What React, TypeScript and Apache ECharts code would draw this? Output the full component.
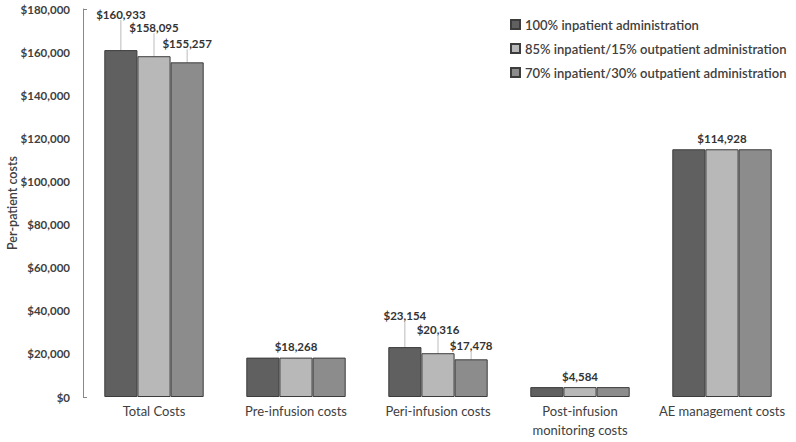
import React, { useEffect, useRef } from "react";
import * as echarts from "echarts";

const categories = ["Total Costs", "Pre-infusion costs", "Peri-infusion costs", "Post-infusion\nmonitoring costs", "AE management costs"];
const seriesNames = ["100% inpatient administration", "85% inpatient/15% outpatient administration", "70% inpatient/30% outpatient administration"];
const inpatient100 = [160933, 18268, 23154, 4584, 114928];
const mix85 = [158095, 18268, 20316, 4584, 114928];
const mix70 = [155257, 18268, 17478, 4584, 114928];
const colors = ["#606060", "#b8b8b8", "#8c8c8c"];
// which labels are shown: staggered for Total/Peri (all), single centered label for others
const showLabel = [
  [true, false, true, false, false],
  [true, true, true, true, true],
  [true, false, true, false, false],
];
const labelRaise = [
  [-25, 0, -21, 0, 0],
  [-18, 0, -13, 0, 0],
  [-8, 0, -3, 0, 0],
];

const FONT = "Lato, 'Open Sans', sans-serif";

export default function App() {
  const ref = useRef<HTMLDivElement>(null);
  useEffect(() => {
    const chart = echarts.init(ref.current!, null, { renderer: "svg" });
    const all = [inpatient100, mix85, mix70];
    const fmt = (v: number) => "$" + v.toLocaleString("en-US");
    chart.setOption({
      animation: false,
      textStyle: { fontFamily: FONT },
      grid: { left: 83, right: 3, top: 9, bottom: 45, containLabel: false, outerBoundsMode: "none" },
      legend: {
        orient: "vertical",
        left: 505,
        top: 13,
        itemWidth: 9,
        itemHeight: 9,
        itemGap: 11,
        icon: "rect",
        textStyle: { fontSize: 13, color: "#404040", fontWeight: 600, fontFamily: FONT },
        data: seriesNames,
      },
      xAxis: {
        type: "category",
        data: categories,
        axisLine: { show: false },
        axisTick: { show: false },
        axisLabel: { color: "#404040", fontSize: 13, margin: 4, lineHeight: 19, interval: 0, fontFamily: FONT },
      },
      yAxis: [
        {
          type: "value",
          min: 0,
          max: 180000,
          interval: 20000,
          name: "Per-patient costs",
          nameLocation: "middle",
          nameGap: 64,
          nameMoveOverlap: false,
          nameTextStyle: { color: "#404040", fontSize: 12.5, fontWeight: 600, fontFamily: FONT },
          splitLine: { show: false },
          axisLine: { show: true, lineStyle: { color: "#888888" } },
          axisTick: { show: false },
          axisLabel: { color: "#404040", fontSize: 11.5, fontWeight: 700, margin: 13, formatter: (v: number) => fmt(v) },
        },
        {
          type: "value",
          min: 0,
          max: 180000,
          interval: 180000,
          position: "left",
          splitLine: { show: false },
          axisLine: { show: false },
          axisLabel: { show: false },
          axisTick: { show: true, inside: true, length: 4, lineStyle: { color: "#888888" } },
        },
      ],
      series: seriesNames.map((name, si) => ({
        name,
        type: "bar",
        yAxisIndex: 0,
        barGap: "0%",
        barCategoryGap: "30%",
        itemStyle: { color: colors[si], borderColor: "#3c3c3c", borderWidth: 1 },
        labelLine: { show: true, lineStyle: { color: "#bbbbbb", width: 1 } },
        labelLayout: (p: any) => ({ dy: labelRaise[si][p.dataIndex] }),
        data: all[si].map((v, i) => ({
          value: v,
          labelLine: { show: labelRaise[si][i] !== 0 },
          label: {
            show: showLabel[si][i],
            position: "top",
            distance: 5,
            formatter: fmt(v),
            color: "#333333",
            fontSize: 11.5,
            fontWeight: 700,
            fontFamily: FONT,
          },
        })),
      })),
    });
    return () => chart.dispose();
  }, []);
  return <div ref={ref} style={{ width: 796, height: 442, position: "absolute", left: 0, top: 0 }} />;
}
